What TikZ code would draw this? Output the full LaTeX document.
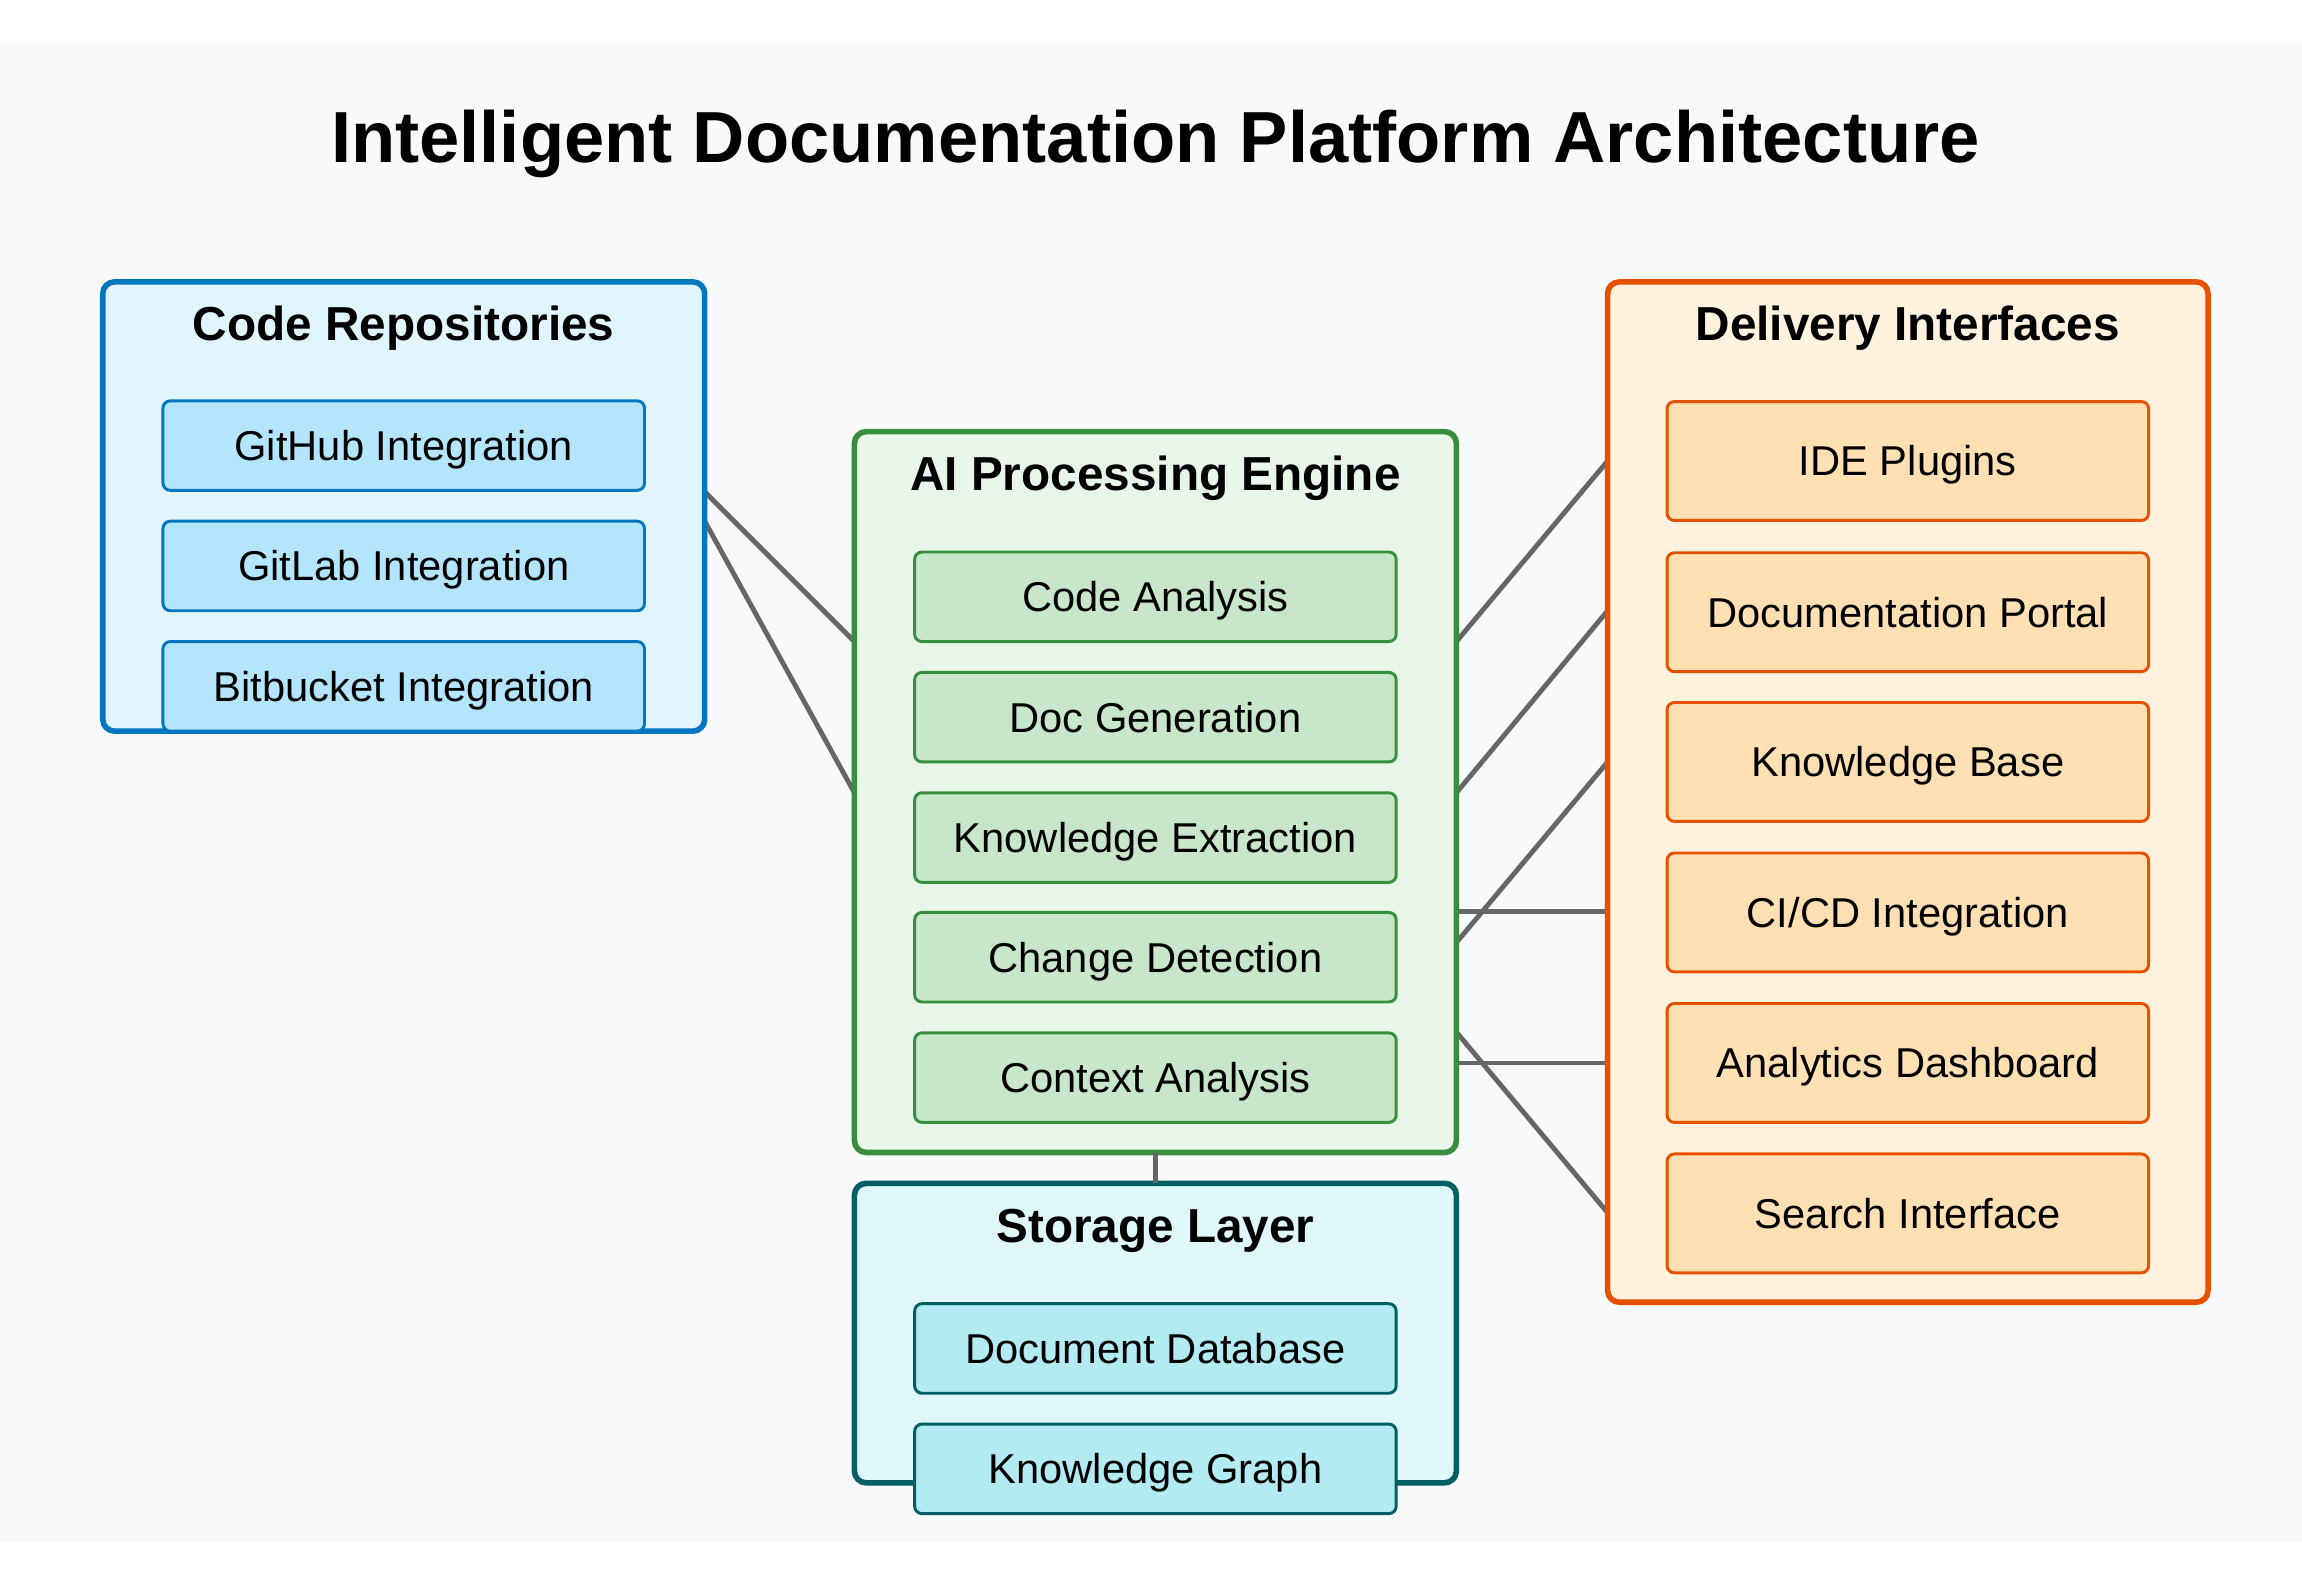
\documentclass[tikz,border=0pt]{standalone}
\usepackage{fontspec}
\setmainfont{Liberation Sans}
\usetikzlibrary{calc}
\definecolor{bgc}{HTML}{F8F9FA}
\definecolor{connc}{HTML}{666666}
\definecolor{repoD}{HTML}{0277BD}
\definecolor{repoF}{HTML}{E1F5FE}
\definecolor{repoS}{HTML}{B3E5FC}
\definecolor{aiD}{HTML}{388E3C}
\definecolor{aiF}{HTML}{E8F5E9}
\definecolor{aiS}{HTML}{C8E6C9}
\definecolor{stD}{HTML}{006064}
\definecolor{stF}{HTML}{E0F7FA}
\definecolor{stS}{HTML}{B2EBF2}
\definecolor{dlD}{HTML}{E65100}
\definecolor{dlF}{HTML}{FFF3E0}
\definecolor{dlS}{HTML}{FFE0B2}
\begin{document}
\begin{tikzpicture}[x=1pt,y=-1pt,
  outerbox/.style={draw, line width=3.8pt, rounded corners=8pt, inner sep=0pt, outer sep=0pt},
  subbox/.style={draw, line width=2pt, rounded corners=5pt, inner sep=0pt, outer sep=0pt,
    minimum width=328pt, text height=20.3pt, text depth=0pt, font=\fontsize{28.4}{34}\selectfont},
  hdr/.style={anchor=base, inner sep=0pt, font=\fontsize{32.5}{39}\selectfont\bfseries},
  conn/.style={draw=connc, line width=3.3pt}]
\useasboundingbox (0,0) rectangle (1568,1073.5);
\fill[bgc] (0,28) rectangle (1568,1050);

\node[anchor=base, inner sep=0pt, font=\fontsize{49.3}{59}\selectfont\bfseries] (title) at (787,110.5) {Intelligent Documentation Platform Architecture};

% connector end points
\coordinate (r1) at (480,335);
\coordinate (r2) at (480,355);
\coordinate (a1) at (582,437);
\coordinate (a2) at (582,540);
\coordinate (o1) at (992,437);
\coordinate (o2) at (992,540);
\coordinate (o3) at (992,642);
\coordinate (o4) at (992,621);
\coordinate (o5) at (992,724);
\coordinate (o6) at (992,703);
\coordinate (d1) at (1095,314);
\coordinate (d2) at (1095,416);
\coordinate (d3) at (1095,519);
\coordinate (d4) at (1095,621);
\coordinate (d5) at (1095,724);
\coordinate (d6) at (1095,826);
\draw[conn] (r1) -- (a1);
\draw[conn] (r2) -- (a2);
\draw[conn] (o1) -- (d1);
\draw[conn] (o2) -- (d2);
\draw[conn] (o3) -- (d3);
\draw[conn] (o4) -- (d4);
\draw[conn] (o5) -- (d5);
\draw[conn] (o6) -- (d6);

% outer boxes
\node[outerbox, draw=repoD, fill=repoF, minimum width=410pt, minimum height=306pt] (repo) at (275,345) {};
\node[outerbox, draw=aiD, fill=aiF, minimum width=410pt, minimum height=491pt] (ai) at (787,539.5) {};
\node[outerbox, draw=stD, fill=stF, minimum width=410pt, minimum height=204pt] (stor) at (787,908) {};
\node[outerbox, draw=dlD, fill=dlF, minimum width=409pt, minimum height=695pt] (deliv) at (1299.5,539.5) {};
\draw[conn] (ai.south) -- (stor.north);

% headers
\node[hdr] (repoT) at (275,232) {Code Repositories};
\node[hdr] (aiT) at (787,334) {AI Processing Engine};
\node[hdr] (storT) at (787,846) {Storage Layer};
\node[hdr] (delivT) at (1299.5,232) {Delivery Interfaces};

% code repositories
\begin{scope}[every node/.style={subbox, draw=repoD, fill=repoS, minimum height=61pt}]
\node (gh) at (275,303.5) {GitHub Integration};
\node (gl) at (275,385.5) {GitLab Integration};
\node (bb) at (275,467.5) {Bitbucket Integration};
\end{scope}

% AI engine
\begin{scope}[every node/.style={subbox, draw=aiD, fill=aiS, minimum height=61pt}]
\node (ca) at (787,406.5) {Code Analysis};
\node (dg) at (787,488.5) {Doc Generation};
\node (ke) at (787,570.5) {Knowledge Extraction};
\node (cd) at (787,652) {Change Detection};
\node (cx) at (787,734) {Context Analysis};
\end{scope}

% storage
\begin{scope}[every node/.style={subbox, draw=stD, fill=stS, minimum height=61pt}]
\node (db) at (787,918.5) {Document Database};
\node (kg) at (787,1000.5) {Knowledge Graph};
\end{scope}

% delivery
\begin{scope}[every node/.style={subbox, draw=dlD, fill=dlS, minimum height=81pt}]
\node (ide) at (1299.5,314) {IDE Plugins};
\node (portal) at (1299.5,417) {Documentation Portal};
\node (kb) at (1299.5,519) {Knowledge Base};
\node (cicd) at (1299.5,621.5) {CI/CD Integration};
\node (an) at (1299.5,724) {Analytics Dashboard};
\node (si) at (1299.5,826.5) {Search Interface};
\end{scope}
\end{tikzpicture}
\end{document}
